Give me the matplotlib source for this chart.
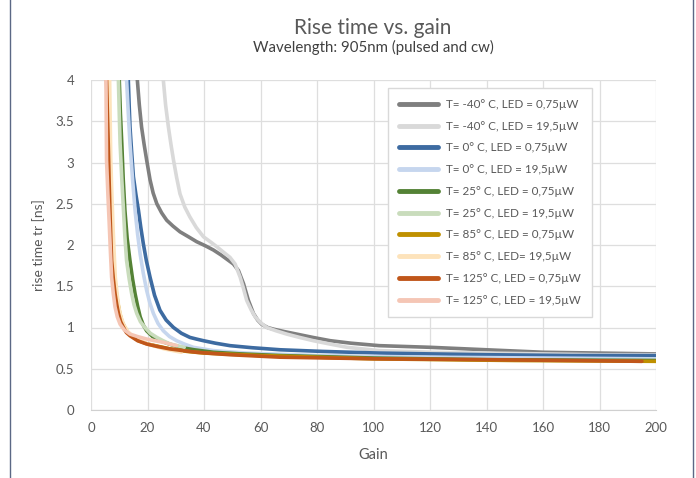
import numpy as np
from matplotlib import pyplot as plt
from matplotlib.lines import Line2D

plt.rcParams['font.family'] = ['Lato', 'DejaVu Sans']

# gain / rise time pairs, one pair of lists per curve
gain_m40_low = [16.4, 17.1, 17.9, 18.8, 19.7, 20.9, 22.0, 23.3, 25.0, 26.8, 29.0, 31.5, 34.5,
                37.4, 40.5, 43.3, 46, 48, 50.4, 52.2, 54, 55.7, 57.5, 59.0, 60.4, 62.5, 64.6,
                68.5, 72.8, 78.5, 84.7, 92, 102, 120, 140, 160, 180, 200]
rise_m40_low = [4.0, 3.7, 3.43, 3.22, 3.03, 2.79, 2.63, 2.5, 2.39, 2.3, 2.23, 2.16, 2.1,
                2.04, 1.99, 1.94, 1.88, 1.83, 1.77, 1.69, 1.53, 1.33, 1.17, 1.09, 1.04, 1.0, 0.98,
                0.95, 0.92, 0.88, 0.84, 0.81, 0.78, 0.76, 0.73, 0.70, 0.69, 0.68]

gain_m40_high = [25.6, 26.4, 27.4, 28.3, 29.2, 30.3, 31.5, 33.2, 35, 37.3, 39.8, 42.2, 44.5,
                 47, 49.2, 51, 52.8, 54, 55.1, 56.6, 58.1, 60, 62.2, 65.5, 69.3, 73.8, 78.7,
                 84.5, 90.6, 102, 120, 140, 160, 180, 200]
rise_m40_high = [4.0, 3.7, 3.43, 3.22, 3.03, 2.82, 2.62, 2.46, 2.34, 2.21, 2.1, 2.04, 1.98,
                 1.91, 1.85, 1.77, 1.61, 1.47, 1.33, 1.22, 1.13, 1.06, 1.0, 0.96, 0.92, 0.88, 0.84,
                 0.80, 0.76, 0.72, 0.70, 0.69, 0.68, 0.67, 0.67]

gain_0_low = [13.2, 13.5, 13.8, 14.4, 15, 15.9, 16.8, 17.6, 18.5, 19.6, 20.9, 22.5, 24.4,
              26.6, 29.2, 32, 35, 37.3, 39.8, 44, 49.2, 57, 67, 82, 102, 120, 140, 170, 200]
rise_0_low = [4.0, 3.7, 3.43, 3.12, 2.83, 2.61, 2.42, 2.22, 2.02, 1.81, 1.61, 1.39, 1.21,
              1.09, 1.0, 0.93, 0.88, 0.86, 0.84, 0.81, 0.78, 0.755, 0.73, 0.71, 0.69, 0.68, 0.67,
              0.66, 0.66]

gain_0_high = [12.6, 13.2, 13.8, 14.7, 15.6, 16.5, 17.4, 18.5, 19.7, 20.8, 22.1, 23.7, 25.6,
               27.8, 30.3, 33.0, 36.2, 43.3, 55, 80, 120, 160, 200]
rise_0_high = [4.0, 3.6, 3.23, 2.8, 2.42, 2.13, 1.89, 1.66, 1.45, 1.3, 1.17, 1.05, 0.96,
               0.89, 0.84, 0.8, 0.76, 0.72, 0.69, 0.66, 0.64, 0.63, 0.62]

gain_25_low = [10, 10.4, 10.9, 11.4, 12, 12.8, 13.8, 14.7, 15.6, 16.5, 17.4, 18.5, 19.7, 21.8,
               24.4, 27.7, 31.5, 36.5, 43.3, 53, 67, 100, 140, 200]
rise_25_low = [4.0, 3.6, 3.23, 2.8, 2.42, 2.08, 1.81, 1.59, 1.41, 1.26, 1.13, 1.03, 0.96, 0.89,
               0.84, 0.8, 0.76, 0.73, 0.70, 0.68, 0.66, 0.63, 0.61, 0.60]

gain_25_high = [9.7, 10.0, 10.3, 10.9, 11.5, 12.0, 12.6, 13.5, 14.4, 15.2, 16.2, 17.5, 19.1,
                21, 23.3, 25.5, 28, 33]
rise_25_high = [4.0, 3.6, 3.23, 2.8, 2.42, 2.1, 1.81, 1.59, 1.41, 1.28, 1.17, 1.07, 1.0,
                0.93, 0.88, 0.84, 0.80, 0.76]

gain_85_low = [6.2, 6.4, 6.6, 6.9, 7.2, 7.5, 7.8, 8.4, 9.0, 9.6, 10.2, 11.0, 12, 13.0, 14.3,
               16.8, 20, 24, 28, 34, 40, 60, 100, 150, 200]
rise_85_low = [4.0, 3.6, 3.23, 2.8, 2.42, 2.1, 1.81, 1.59, 1.41, 1.28, 1.17, 1.07, 1.0, 0.94, 0.90,
               0.84, 0.80, 0.77, 0.74, 0.71, 0.69, 0.66, 0.62, 0.60, 0.59]

gain_85_high = [6.6, 6.8, 7.0, 7.4, 7.8, 8.2, 8.6, 9.2, 9.8, 10.6, 11.5, 12.8, 14.5, 17, 20,
                23, 26, 32]
rise_85_high = [4.0, 3.5, 3.03, 2.6, 2.22, 1.9, 1.61, 1.42, 1.25, 1.13, 1.04, 0.96, 0.90,
                0.85, 0.80, 0.77, 0.74, 0.70]

gain_125_low = [5.5, 5.8, 6.1, 6.4, 6.7, 7.0, 7.3, 7.9, 8.5, 9.1, 9.7, 10.5, 11.5, 12.5, 13.8,
                16.5, 19.7, 23.5, 28, 32.5, 37.4, 43, 49.2, 67, 102, 140, 170, 195]
rise_125_low = [4.0, 3.6, 3.23, 2.8, 2.42, 2.1, 1.81, 1.59, 1.41, 1.28, 1.17, 1.07, 1.0, 0.94,
                0.90, 0.84, 0.80, 0.77, 0.74, 0.72, 0.70, 0.685, 0.67, 0.64, 0.62, 0.61, 0.60, 0.59]

gain_125_high = [5.3, 5.4, 5.5, 6.0, 6.5, 6.9, 7.3, 7.9, 8.5, 9.3, 10.3, 11.8, 13.8, 16.5,
                 19.7, 22.5, 25.6, 30.3]
rise_125_high = [4.0, 3.5, 3.03, 2.6, 2.22, 1.9, 1.61, 1.41, 1.25, 1.13, 1.04, 0.97, 0.92,
                 0.89, 0.86, 0.84, 0.82, 0.78]

labels = ['T= -40° C, LED = 0,75µW', 'T= -40° C, LED = 19,5µW',
          'T= 0° C, LED = 0,75µW', 'T= 0° C, LED = 19,5µW',
          'T= 25° C, LED = 0,75µW', 'T= 25° C, LED = 19,5µW',
          'T= 85° C, LED = 0,75µW', 'T= 85° C, LED= 19,5µW',
          'T= 125° C, LED = 0,75µW', 'T= 125° C, LED = 19,5µW']
colors = ['#7f7f7f', '#d9d9d9', '#3d6ba1', '#c6d6ee', '#548235',
          '#c9dcbc', '#bf9000', '#fde3bb', '#c0561a', '#f5c6b5']

xticks = list(range(0, 201, 20))
yticks = [0, 0.5, 1, 1.5, 2, 2.5, 3, 3.5, 4]

series = [(gain_m40_low, rise_m40_low), (gain_m40_high, rise_m40_high),
          (gain_0_low, rise_0_low), (gain_0_high, rise_0_high),
          (gain_25_low, rise_25_low), (gain_25_high, rise_25_high),
          (gain_85_low, rise_85_low), (gain_85_high, rise_85_high),
          (gain_125_low, rise_125_low), (gain_125_high, rise_125_high)]

txt = '#595959'
fig = plt.figure(figsize=(6.96, 4.78), dpi=100)
ax = fig.add_axes([91 / 696, 68 / 478, 565 / 696, 330 / 478])

for (g, r), lab, c in zip(series, labels, colors):
    ax.plot(g, r, color=c, lw=2.6, label=lab, solid_capstyle='round',
            solid_joinstyle='round')

ax.set_xlim(0, 200)
ax.set_ylim(0, 4)
ax.set_xticks(xticks)
ax.set_yticks(yticks)
ax.set_yticklabels([('%g' % v) for v in yticks])
ax.grid(True, color='#dedede', lw=0.9)
ax.set_axisbelow(True)
for s in ['top', 'right', 'left']:
    ax.spines[s].set_visible(False)
ax.spines['bottom'].set_color('#d0d0d0')
ax.tick_params(length=0, colors=txt, labelsize=9.5)
ax.tick_params(axis='y', pad=12)
ax.tick_params(axis='x', pad=9)
ax.set_xlabel('Gain', color=txt, fontsize=10.5, labelpad=10)
ax.set_ylabel('rise time tr [ns]', color=txt, fontsize=10, labelpad=8)

leg = ax.legend(loc='upper left', bbox_to_anchor=(0.526, 0.976), fontsize=8.4,
                handlelength=3.3, handletextpad=0.7, labelspacing=0.92,
                borderpad=0.95, fancybox=False, framealpha=1, edgecolor='#d9d9d9',
                borderaxespad=0)
for t in leg.get_texts():
    t.set_color(txt)
for h in leg.get_lines():
    h.set_linewidth(3.5)

fig.text(373 / 696, 1 - 28 / 478, 'Rise time vs. gain', ha='center', va='center',
         fontsize=15, color=txt)
fig.text(373 / 696, 1 - 47 / 478, 'Wavelength: 905nm (pulsed and cw)', ha='center',
         va='center', fontsize=10.8, color='#404040')

# page frame at the sides
fig.add_artist(Line2D([10 / 696, 10 / 696], [0, 1], color='#5b6885', lw=1))
fig.add_artist(Line2D([693 / 696, 693 / 696], [0, 1], color='#5b6885', lw=1))

fig.savefig('out.png', dpi=100)
